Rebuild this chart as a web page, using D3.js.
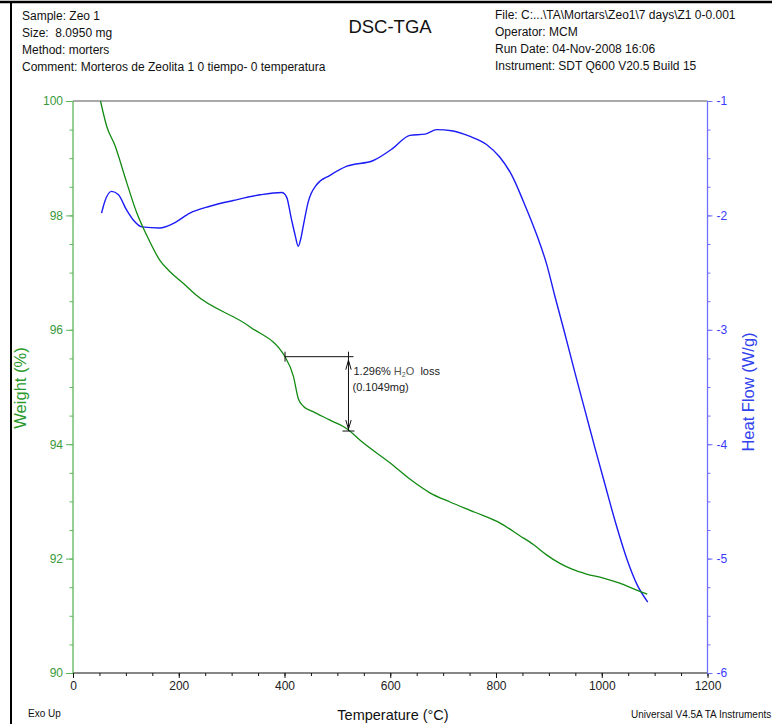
<!DOCTYPE html>
<html><head><meta charset="utf-8">
<script src="https://cdn.jsdelivr.net/npm/d3@7/dist/d3.min.js"></script>
<style>
html,body{margin:0;padding:0;background:#fff;}
svg{display:block;font-family:"Liberation Sans",Arial,sans-serif;}
</style></head>
<body>
<svg id="chart" width="772" height="724"></svg>
<script>
// ---- data ----
const headerLeft = ["Sample: Zeo 1", "Size:  8.0950 mg", "Method: morters", "Comment: Morteros de Zeolita 1 0 tiempo- 0 temperatura"];
const headerRight = ["File: C:...\\TA\\Mortars\\Zeo1\\7 days\\Z1 0-0.001", "Operator: MCM", "Run Date: 04-Nov-2008 16:06", "Instrument: SDT Q600 V20.5 Build 15"];
const title = "DSC-TGA";

const weightTemp = [52, 64, 79, 101, 120, 139, 164, 183, 209, 231, 335, 401, 417, 426, 436, 454, 486, 521, 543, 600, 637, 675, 713, 760, 808, 845, 870, 895, 920, 945, 971, 1003, 1034, 1066, 1086];
const weightPct  = [100, 99.55, 99.23, 98.59, 98.06, 97.66, 97.22, 97.02, 96.81, 96.62, 96.05, 95.53, 95.18, 94.80, 94.66, 94.57, 94.42, 94.25, 94.07, 93.67, 93.39, 93.15, 92.99, 92.81, 92.62, 92.40, 92.25, 92.07, 91.92, 91.81, 91.73, 91.66, 91.57, 91.45, 91.38];

const heatTemp = [54, 60, 73, 86, 101, 114, 130, 164, 190, 221, 259, 303, 354, 395, 404, 413, 420, 426, 431, 436, 445, 461, 486, 518, 568, 606, 637, 666, 688, 716, 751, 782, 807, 830, 852, 877, 896, 911, 930, 949, 968, 987, 1006, 1027, 1048, 1067, 1087];
const heatFlow = [-1.98, -1.88, -1.79, -1.82, -1.95, -2.04, -2.10, -2.11, -2.07, -1.98, -1.92, -1.87, -1.82, -1.80, -1.84, -2.03, -2.17, -2.27, -2.20, -2.08, -1.88, -1.73, -1.65, -1.57, -1.52, -1.41, -1.30, -1.29, -1.25, -1.26, -1.31, -1.38, -1.49, -1.65, -1.88, -2.17, -2.43, -2.70, -3.03, -3.37, -3.70, -4.03, -4.35, -4.70, -5.01, -5.23, -5.38];

const xTicks = [0, 200, 400, 600, 800, 1000, 1200];
const yLeftTicks = [90, 92, 94, 96, 98, 100];
const yRightTicks = [-6, -5, -4, -3, -2, -1];

const stepTemps = [401, 521];
const stepWeights = [95.53, 94.23];
const stepLabel1 = ["1.296% ", "H", "2", "O", "  loss"];
const stepLabel2 = "(0.1049mg)";

const xTitle = "Temperature (°C)";
const yLeftTitle = "Weight (%)";
const yRightTitle = "Heat Flow (W/g)";
const footLeft = "Exo Up";
const footRight = "Universal V4.5A TA Instruments";

// ---- layout ----
const svg = d3.select("#chart");
const L = 73, R = 707.5, T = 101, B = 673;
const x = d3.scaleLinear().domain([0, 1200]).range([L, R]);
const yW = d3.scaleLinear().domain([90, 100]).range([B, T]);
const yH = d3.scaleLinear().domain([-6, -1]).range([B, T]);

const cGreenLine = "#128a12", cGreenAxis = "#5cb85c", cGreenText = "#3a9a3a";
const cBlueLine = "#1c1cf5", cBlueAxis = "#7070ff", cBlueText = "#3a3aff";

// frame
svg.append("line").attr("x1", 0).attr("x2", 772).attr("y1", 2).attr("y2", 2).attr("stroke", "#000").attr("stroke-width", 2.5);
svg.append("line").attr("x1", 11).attr("x2", 11).attr("y1", 2).attr("y2", 724).attr("stroke", "#000").attr("stroke-width", 2);

// header
svg.append("g").selectAll("text").data(headerLeft).join("text")
  .attr("x", 22).attr("y", (d, i) => 19.5 + i * 17)
  .attr("font-size", 12).attr("fill", "#111").style("white-space", "pre").text(d => d);
svg.append("g").selectAll("text").data(headerRight).join("text")
  .attr("x", 495).attr("y", (d, i) => 19 + i * 17)
  .attr("font-size", 12).attr("fill", "#111").style("white-space", "pre").text(d => d);
svg.append("text").attr("x", 390).attr("y", 33).attr("text-anchor", "middle")
  .attr("font-size", 18.5).attr("fill", "#111").text(title);

// top border of plot
svg.append("line").attr("x1", L).attr("x2", R).attr("y1", T).attr("y2", T).attr("stroke", "#555").attr("stroke-width", 1.2);

// x axis
const gx = svg.append("g").attr("transform", `translate(0,${B})`);
gx.call(d3.axisBottom(x).tickValues(d3.range(0, 1201, 50)).tickSize(3).tickFormat(""));
gx.call(g => g.selectAll(".tick line").attr("stroke", "#111"));
const gx2 = svg.append("g").attr("transform", `translate(0,${B})`);
gx2.call(d3.axisBottom(x).tickValues(xTicks).tickSize(5).tickPadding(3).tickFormat(d3.format("d")));
gx2.selectAll("text").attr("font-size", 12).attr("fill", "#222").attr("font-family", "Liberation Sans, Arial, sans-serif");
gx2.selectAll(".tick line").attr("stroke", "#111");
svg.selectAll(".domain").remove();
svg.append("line").attr("x1", L).attr("x2", R).attr("y1", B).attr("y2", B).attr("stroke", "#111").attr("stroke-width", 1.2);

// left axis
const gl = svg.append("g").attr("transform", `translate(${L},0)`);
gl.call(d3.axisLeft(yW).tickValues(d3.range(90, 100.01, 0.5)).tickSize(3.5).tickFormat(""));
gl.select(".domain").remove();
gl.selectAll(".tick line").attr("stroke", cGreenAxis);
const gl2 = svg.append("g").attr("transform", `translate(${L},0)`);
gl2.call(d3.axisLeft(yW).tickValues(yLeftTicks).tickSize(7).tickPadding(3).tickFormat(d3.format("d")));
gl2.select(".domain").remove();
gl2.selectAll(".tick line").attr("stroke", cGreenAxis);
gl2.selectAll("text").attr("font-size", 12).attr("fill", cGreenText).attr("font-family", "Liberation Sans, Arial, sans-serif");
svg.append("line").attr("x1", L).attr("x2", L).attr("y1", T).attr("y2", B).attr("stroke", cGreenAxis).attr("stroke-width", 1.3);

// right axis
const gr = svg.append("g").attr("transform", `translate(${R},0)`);
gr.call(d3.axisRight(yH).tickValues(d3.range(-6, -0.99, 0.25)).tickSize(3).tickFormat(""));
gr.select(".domain").remove();
gr.selectAll(".tick line").attr("stroke", cBlueAxis);
const gr2 = svg.append("g").attr("transform", `translate(${R},0)`);
gr2.call(d3.axisRight(yH).tickValues(yRightTicks).tickSize(5).tickPadding(4).tickFormat(d => String(d).replace("−", "-")));
gr2.select(".domain").remove();
gr2.selectAll(".tick line").attr("stroke", cBlueAxis);
gr2.selectAll("text").attr("font-size", 12).attr("fill", cBlueText).attr("font-family", "Liberation Sans, Arial, sans-serif");
svg.append("line").attr("x1", R).attr("x2", R).attr("y1", T).attr("y2", B).attr("stroke", cBlueAxis).attr("stroke-width", 1.3);

// axis titles
svg.append("text").attr("transform", "translate(26,388) rotate(-90)").attr("text-anchor", "middle")
  .attr("font-size", 16.5).attr("fill", "#2e9a2e").text(yLeftTitle);
svg.append("text").attr("transform", "translate(754,392) rotate(-90)").attr("text-anchor", "middle")
  .attr("font-size", 16.5).attr("fill", "#3344ee").text(yRightTitle);
svg.append("text").attr("x", 393).attr("y", 720).attr("text-anchor", "middle")
  .attr("font-size", 14.5).attr("fill", "#111").text(xTitle);
svg.append("text").attr("x", 28).attr("y", 717).attr("font-size", 10).attr("fill", "#111").text(footLeft);
svg.append("text").attr("x", 631).attr("y", 718).attr("font-size", 10).attr("fill", "#111").text(footRight);

// curves
const weightData = weightTemp.map((t, i) => [t, weightPct[i]]);
const heatData = heatTemp.map((t, i) => [t, heatFlow[i]]);
svg.append("path").datum(heatData)
  .attr("d", d3.line().x(d => x(d[0])).y(d => yH(d[1])).curve(d3.curveMonotoneX))
  .attr("fill", "none").attr("stroke", cBlueLine).attr("stroke-width", 1.4);
svg.append("path").datum(weightData)
  .attr("d", d3.line().x(d => x(d[0])).y(d => yW(d[1])).curve(d3.curveMonotoneX))
  .attr("fill", "none").attr("stroke", cGreenLine).attr("stroke-width", 1.3);

// step annotation
const ax1 = x(stepTemps[0]), ax2 = x(stepTemps[1]);
const ay1 = yW(stepWeights[0]), ay2 = yW(stepWeights[1]);
const ann = svg.append("g").attr("stroke", "#111").attr("stroke-width", 1).attr("fill", "none");
ann.append("line").attr("x1", ax1).attr("x2", ax2 + 5).attr("y1", ay1).attr("y2", ay1);
ann.append("line").attr("x1", ax1).attr("x2", ax1).attr("y1", ay1 - 5).attr("y2", ay1 + 5);
ann.append("line").attr("x1", ax2).attr("x2", ax2).attr("y1", ay1 - 5).attr("y2", ay2);
ann.append("line").attr("x1", ax2 - 6).attr("x2", ax2 + 6).attr("y1", ay2).attr("y2", ay2);
ann.append("path").attr("d", `M${ax2 - 2.7},${ay1 + 13} L${ax2},${ay1 + 3.5} L${ax2 + 2.7},${ay1 + 13}`);
ann.append("path").attr("d", `M${ax2 - 2.7},${ay2 - 11} L${ax2},${ay2 - 2} L${ax2 + 2.7},${ay2 - 11}`);

const t1 = svg.append("text").attr("x", ax2 + 5).attr("y", ay1 + 18).attr("font-size", 11).attr("fill", "#222").style("white-space", "pre");
t1.append("tspan").text(stepLabel1[0]);
t1.append("tspan").attr("fill", "#555").text(stepLabel1[1]);
t1.append("tspan").attr("fill", "#555").attr("font-size", 7).attr("dy", 2).text(stepLabel1[2]);
t1.append("tspan").attr("fill", "#555").attr("dy", -2).text(stepLabel1[3]);
t1.append("tspan").text(stepLabel1[4]);
svg.append("text").attr("x", ax2 + 4).attr("y", ay1 + 34).attr("font-size", 11).attr("fill", "#222").text(stepLabel2);
</script>
</body></html>
